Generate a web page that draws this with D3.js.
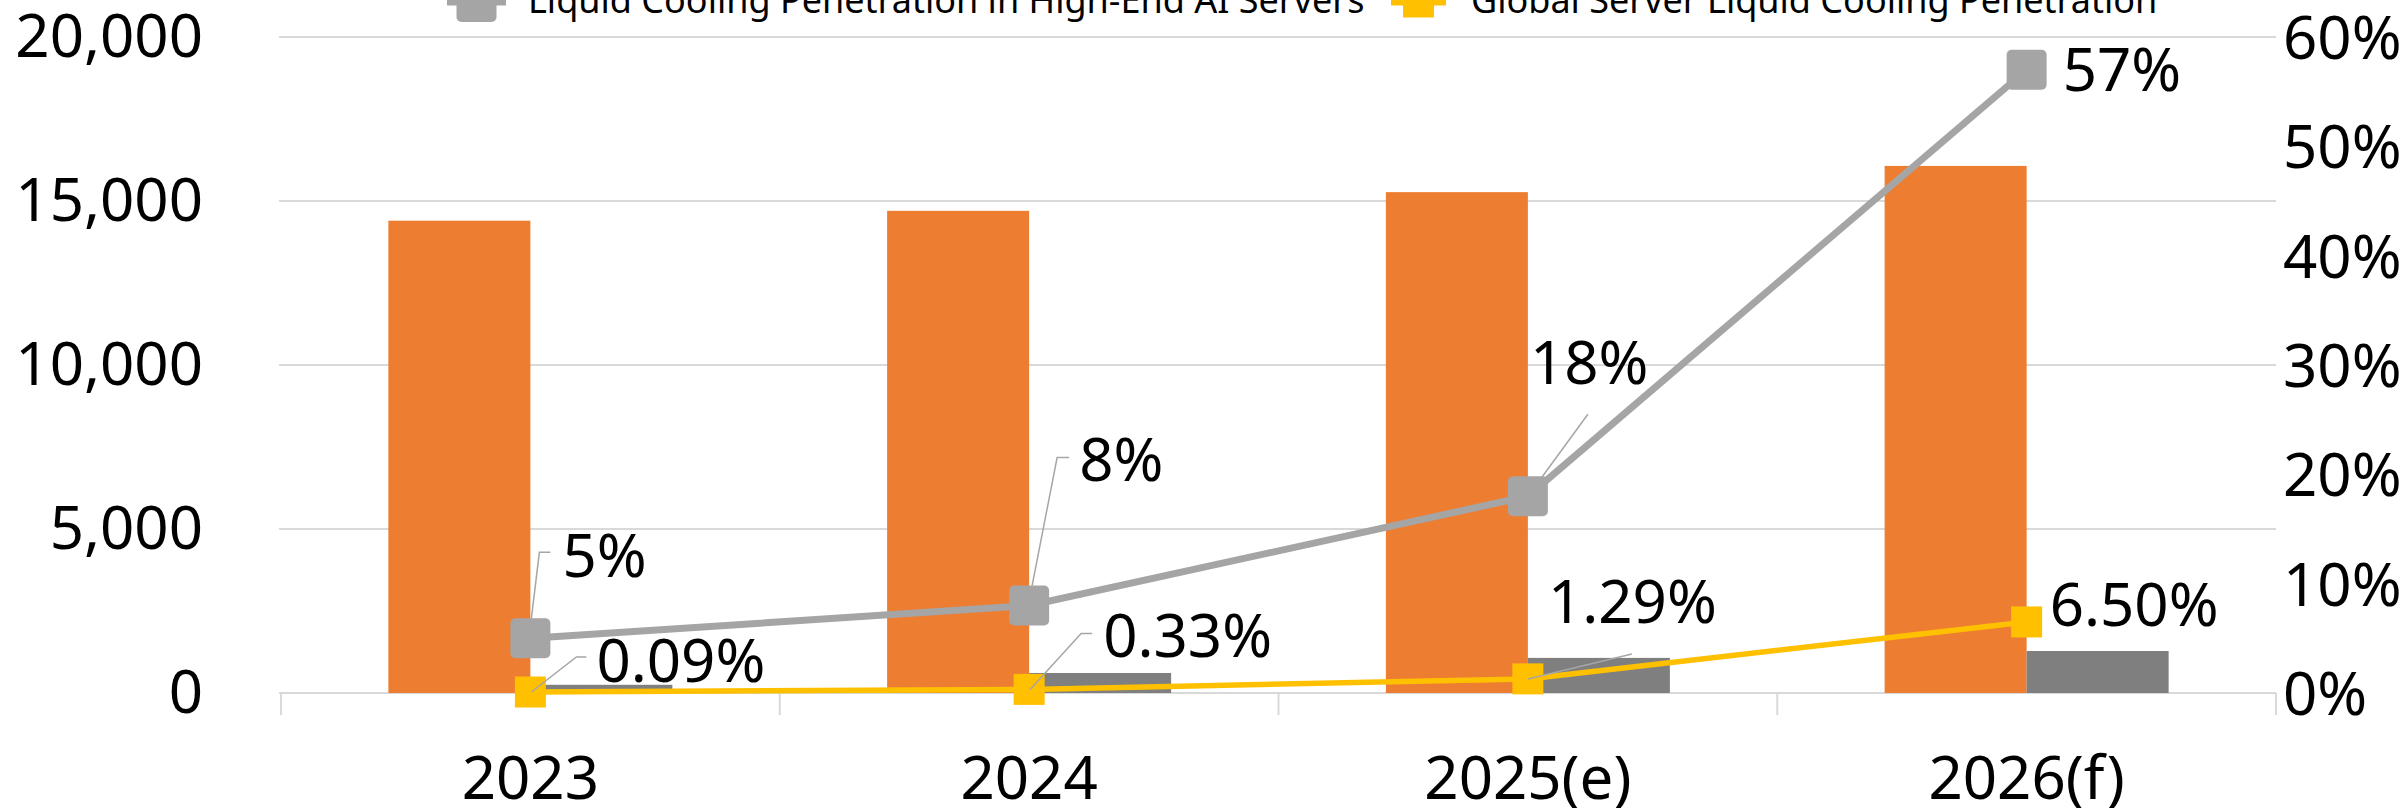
<!DOCTYPE html>
<html>
<head>
<meta charset="utf-8">
<script src="https://cdn.jsdelivr.net/npm/d3@7"></script>
<style>
  body { margin: 0; background: #fff; }
  text { font-family: "Noto Sans", "Open Sans", sans-serif; fill: #000; }
</style>
</head>
<body>
<svg id="chart" width="2407" height="808"></svg>
<script>
// data
const years = ['2023', '2024', '2025(e)', '2026(f)'];
const serverShipments = [14400, 14700, 15270, 16070];   // orange bars
const liquidShipments = [250, 610, 1070, 1280];         // dark gray bars
const aiPenetration = [0.05, 0.08, 0.18, 0.57];         // gray line
const globalPenetration = [0.0009, 0.0033, 0.0129, 0.065]; // yellow line
const leftTicks = [0, 5000, 10000, 15000, 20000];
const rightTicks = [0, 0.1, 0.2, 0.3, 0.4, 0.5, 0.6];
const legendNames = ['Liquid Cooling Penetration in High-End AI Servers', 'Global Server Liquid Cooling Penetration'];

// label placement (offset from the marker centre), leaders as relative points
const aiLabelOffset = [[32, -83], [50, -146], [2, -134], [36, 0]];
const aiLeaders = [
    [[1, -20], [9, -86], [20, -86]],
    [[3, -20], [28, -148], [40, -148]],
    [[14, -19], [60, -82]],
    null
];
const glLabelOffset = [[66, -32], [74, -54], [20, -77], [23, -18]];
const glLeaders = [
    [[1, 0], [46, -35], [56, -35]],
    [[1, 0], [52, -56], [63, -56]],
    [[0, 0], [104, -25]],
    null
];

const svg = d3.select('#chart');
const plot = { left: 281, right: 2276, top: 37, bottom: 693 };
const fontSize = 60;

const x = d3.scaleBand()
    .domain(years)
    .range([plot.left, plot.right])
    .padding(0);
const xSub = d3.scaleBand()
    .domain(['total', 'liquid'])
    .range([-142, 142]);
const yL = d3.scaleLinear().domain([0, 20000]).range([plot.bottom, plot.top]);
const yR = d3.scaleLinear().domain([0, 0.6]).range([plot.bottom, plot.top]);
const cx = d => x(d) + x.bandwidth() / 2;

// gridlines
svg.append('g')
    .selectAll('line')
    .data(leftTicks)
    .join('line')
    .attr('x1', plot.left - 2)
    .attr('x2', plot.right)
    .attr('y1', d => yL(d))
    .attr('y2', d => yL(d))
    .attr('stroke', '#d9d9d9')
    .attr('stroke-width', 2);

// category boundary ticks
svg.append('g')
    .selectAll('line')
    .data(years.map(d => x(d)).concat([plot.right]))
    .join('line')
    .attr('x1', d => d)
    .attr('x2', d => d)
    .attr('y1', plot.bottom)
    .attr('y2', plot.bottom + 22)
    .attr('stroke', '#d9d9d9')
    .attr('stroke-width', 2);

// left axis
const leftAxis = svg.append('g')
    .attr('transform', `translate(203,0)`)
    .call(d3.axisLeft(yL).tickValues(leftTicks).tickFormat(d3.format(',')).tickSize(0).tickPadding(0));
leftAxis.select('.domain').remove();
leftAxis.selectAll('text')
    .attr('font-size', fontSize)
    .attr('font-family', null)
    .attr('dy', '0.33em');

// right axis
const rightAxis = svg.append('g')
    .attr('transform', `translate(2283,0)`)
    .call(d3.axisRight(yR).tickValues(rightTicks).tickFormat(d3.format('.0%')).tickSize(0).tickPadding(0));
rightAxis.select('.domain').remove();
rightAxis.selectAll('text')
    .attr('font-size', fontSize)
    .attr('font-family', null)
    .attr('dy', '0.36em');

// bottom axis
const bottomAxis = svg.append('g')
    .attr('transform', `translate(0,${plot.bottom})`)
    .call(d3.axisBottom(x).tickSize(0).tickPadding(0));
bottomAxis.select('.domain').remove();
bottomAxis.selectAll('text')
    .attr('font-size', fontSize)
    .attr('font-family', null)
    .attr('dy', null)
    .attr('y', 106);

// bars
svg.append('g')
    .selectAll('rect')
    .data(years)
    .join('rect')
    .attr('x', (d) => cx(d) + xSub('total'))
    .attr('width', xSub.bandwidth())
    .attr('y', (d, i) => yL(serverShipments[i]))
    .attr('height', (d, i) => yL(0) - yL(serverShipments[i]))
    .attr('fill', '#ED7D31');

svg.append('g')
    .selectAll('rect')
    .data(years)
    .join('rect')
    .attr('x', (d) => cx(d) + xSub('liquid'))
    .attr('width', xSub.bandwidth())
    .attr('y', (d, i) => yL(liquidShipments[i]))
    .attr('height', (d, i) => yL(0) - yL(liquidShipments[i]))
    .attr('fill', '#7F7F7F');

// lines
const line = d3.line()
    .x((d, i) => cx(years[i]))
    .y(d => yR(d));

svg.append('path')
    .datum(aiPenetration)
    .attr('d', line)
    .attr('fill', 'none')
    .attr('stroke', '#A5A5A5')
    .attr('stroke-width', 7);

svg.append('path')
    .datum(globalPenetration)
    .attr('d', line)
    .attr('fill', 'none')
    .attr('stroke', '#FFC000')
    .attr('stroke-width', 5.5);

// markers
svg.append('g')
    .selectAll('rect')
    .data(aiPenetration)
    .join('rect')
    .attr('x', (d, i) => cx(years[i]) - 20)
    .attr('y', d => yR(d) - 20)
    .attr('width', 40)
    .attr('height', 40)
    .attr('rx', 5)
    .attr('fill', '#A5A5A5');

svg.append('g')
    .selectAll('rect')
    .data(globalPenetration)
    .join('rect')
    .attr('x', (d, i) => cx(years[i]) - 15.5)
    .attr('y', d => yR(d) - 15.5)
    .attr('width', 31)
    .attr('height', 31)
    .attr('fill', '#FFC000');

// leader lines
function drawLeaders(values, leaders) {
    svg.append('g')
        .selectAll('polyline')
        .data(values.map((v, i) => ({ v, i })).filter(d => leaders[d.i]))
        .join('polyline')
        .attr('points', d => leaders[d.i]
            .map(p => [cx(years[d.i]) + p[0], yR(d.v) + p[1]].join(','))
            .join(' '))
        .attr('fill', 'none')
        .attr('stroke', '#a6a6a6')
        .attr('stroke-width', 1.5);
}
drawLeaders(aiPenetration, aiLeaders);
drawLeaders(globalPenetration, glLeaders);

// data labels
function drawLabels(values, offsets, fmt) {
    svg.append('g')
        .selectAll('text')
        .data(values)
        .join('text')
        .attr('x', (d, i) => cx(years[i]) + offsets[i][0])
        .attr('y', (d, i) => yR(d) + offsets[i][1])
        .attr('dy', '0.36em')
        .attr('font-size', fontSize)
        .text(d => fmt(d));
}
drawLabels(aiPenetration, aiLabelOffset, d3.format('.0%'));
drawLabels(globalPenetration, glLabelOffset, d3.format('.2%'));

// legend (clipped at the top edge like the original)
const legend = [
    { name: legendNames[0], color: '#A5A5A5', x0: 447, x1: 506, size: 40, rx: 5, tx: 528 },
    { name: legendNames[1], color: '#FFC000', x0: 1391, x1: 1446, size: 31, rx: 0, tx: 1471 }
];
const lg = svg.append('g').attr('transform', 'translate(0,2)');
lg.selectAll('line')
    .data(legend)
    .join('line')
    .attr('x1', d => d.x0)
    .attr('x2', d => d.x1)
    .attr('y1', 0)
    .attr('y2', 0)
    .attr('stroke', d => d.color)
    .attr('stroke-width', 7);
lg.selectAll('rect')
    .data(legend)
    .join('rect')
    .attr('x', d => (d.x0 + d.x1) / 2 - d.size / 2)
    .attr('y', d => -d.size / 2)
    .attr('width', d => d.size)
    .attr('height', d => d.size)
    .attr('rx', d => d.rx)
    .attr('fill', d => d.color);
lg.selectAll('text')
    .data(legend)
    .join('text')
    .attr('x', d => d.tx)
    .attr('y', 11)
    .attr('font-size', 36)
    .text(d => d.name);
</script>
</body>
</html>
